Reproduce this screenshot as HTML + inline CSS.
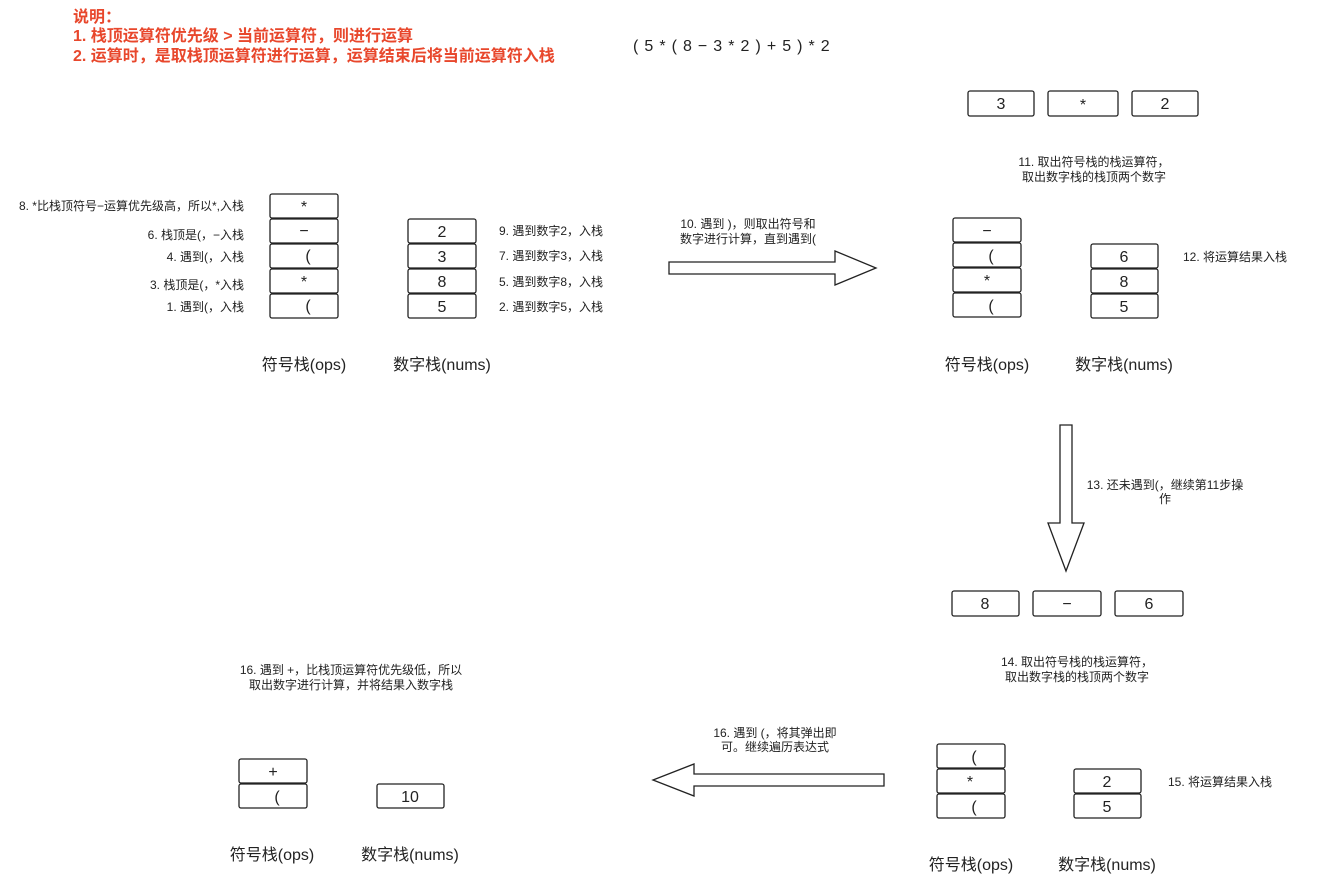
<!DOCTYPE html>
<html><head><meta charset="utf-8"><style>
body{margin:0;background:#fff}
svg text{font-family:"Liberation Sans","Noto Sans CJK SC",sans-serif;fill:#222}
</style></head><body>
<svg width="1333" height="884" viewBox="0 0 1333 884" xmlns="http://www.w3.org/2000/svg">
<g font-size="16" font-weight="bold">
<text x="73" y="22" style="fill:#e8472c">说明：</text>
<text x="73" y="41" style="fill:#e8472c">1. 栈顶运算符优先级 &gt; 当前运算符，则进行运算</text>
<text x="73" y="61" style="fill:#e8472c">2. 运算时，是取栈顶运算符进行运算，运算结束后将当前运算符入栈</text>
</g>
<text x="633" y="51" font-size="16" letter-spacing="0.8">( 5 * ( 8 − 3 * 2 ) + 5 ) * 2</text>
<g fill="#fff" stroke="#222" stroke-width="1.3">
<rect x="270" y="194" width="68" height="24" rx="2"/><rect x="270" y="219" width="68" height="24" rx="2"/><rect x="270" y="244" width="68" height="24" rx="2"/><rect x="270" y="269" width="68" height="24" rx="2"/><rect x="270" y="294" width="68" height="24" rx="2"/>
<rect x="408" y="219" width="68" height="24" rx="2"/><rect x="408" y="244" width="68" height="24" rx="2"/><rect x="408" y="269" width="68" height="24" rx="2"/><rect x="408" y="294" width="68" height="24" rx="2"/>
<rect x="968" y="91" width="66" height="25" rx="2"/><rect x="1048" y="91" width="70" height="25" rx="2"/><rect x="1132" y="91" width="66" height="25" rx="2"/>
<rect x="953" y="218" width="68" height="24" rx="2"/><rect x="953" y="243" width="68" height="24" rx="2"/><rect x="953" y="268" width="68" height="24" rx="2"/><rect x="953" y="293" width="68" height="24" rx="2"/>
<rect x="1091" y="244" width="67" height="24" rx="2"/><rect x="1091" y="269" width="67" height="24" rx="2"/><rect x="1091" y="294" width="67" height="24" rx="2"/>
<rect x="952" y="591" width="67" height="25" rx="2"/><rect x="1033" y="591" width="68" height="25" rx="2"/><rect x="1115" y="591" width="68" height="25" rx="2"/>
<rect x="937" y="744" width="68" height="24" rx="2"/><rect x="937" y="769" width="68" height="24" rx="2"/><rect x="937" y="794" width="68" height="24" rx="2"/>
<rect x="1074" y="769" width="67" height="24" rx="2"/><rect x="1074" y="794" width="67" height="24" rx="2"/>
<rect x="239" y="759" width="68" height="24" rx="2"/><rect x="239" y="784" width="68" height="24" rx="2"/>
<rect x="377" y="784" width="67" height="24" rx="2"/>
<path d="M669 262 H835 V251 L876 268 L835 285 V274 H669 Z"/>
<path d="M1060 425 H1072 V523 H1084 L1066 571 L1048 523 H1060 Z"/>
<path d="M884 774 H694 V764 L653 780 L694 796 V786 H884 Z"/>
</g>
<g font-size="16" text-anchor="middle">
<text x="304" y="212">*</text><text x="304" y="236">−</text><text x="308" y="261">(</text><text x="304" y="287">*</text><text x="308" y="311">(</text>
<text x="442" y="237">2</text><text x="442" y="262">3</text><text x="442" y="287">8</text><text x="442" y="312">5</text>
<text x="1001" y="109">3</text><text x="1083" y="110">*</text><text x="1165" y="109">2</text>
<text x="987" y="236">−</text><text x="991" y="261">(</text><text x="987" y="286">*</text><text x="991" y="311">(</text>
<text x="1124" y="262">6</text><text x="1124" y="287">8</text><text x="1124" y="312">5</text>
<text x="985" y="609">8</text><text x="1067" y="609">−</text><text x="1149" y="609">6</text>
<text x="974" y="762">(</text><text x="970" y="787">*</text><text x="974" y="812">(</text>
<text x="1107" y="787">2</text><text x="1107" y="812">5</text>
<text x="273" y="777">+</text><text x="277" y="802">(</text>
<text x="410" y="802">10</text>
</g>
<g font-size="16" text-anchor="middle">
<text x="304" y="370">符号栈(ops)</text><text x="442" y="370">数字栈(nums)</text>
<text x="987" y="370">符号栈(ops)</text><text x="1124" y="370">数字栈(nums)</text>
<text x="272" y="860">符号栈(ops)</text><text x="410" y="860">数字栈(nums)</text>
<text x="971" y="870">符号栈(ops)</text><text x="1107" y="870">数字栈(nums)</text>
</g>
<g font-size="12" text-anchor="end">
<text x="244" y="210">8. *比栈顶符号−运算优先级高，所以*,入栈</text>
<text x="244" y="239">6. 栈顶是(，−入栈</text>
<text x="244" y="261">4. 遇到(，入栈</text>
<text x="244" y="289">3. 栈顶是(，*入栈</text>
<text x="244" y="311">1. 遇到(，入栈</text>
</g>
<g font-size="12">
<text x="499" y="235">9. 遇到数字2，入栈</text>
<text x="499" y="260">7. 遇到数字3，入栈</text>
<text x="499" y="286">5. 遇到数字8，入栈</text>
<text x="499" y="311">2. 遇到数字5，入栈</text>
<text x="1183" y="261">12. 将运算结果入栈</text>
<text x="1168" y="786">15. 将运算结果入栈</text>
</g>
<g font-size="12" text-anchor="middle">
<text x="748" y="228">10. 遇到 )，则取出符号和</text><text x="748" y="243">数字进行计算，直到遇到(</text>
<text x="1094" y="166">11. 取出符号栈的栈运算符，</text><text x="1094" y="181">取出数字栈的栈顶两个数字</text>
<text x="1165" y="489">13. 还未遇到(，继续第11步操</text><text x="1165" y="503">作</text>
<text x="1077" y="666">14. 取出符号栈的栈运算符，</text><text x="1077" y="681">取出数字栈的栈顶两个数字</text>
<text x="775" y="737">16. 遇到 (，将其弹出即</text><text x="775" y="751">可。继续遍历表达式</text>
<text x="351" y="674">16. 遇到 +，比栈顶运算符优先级低，所以</text><text x="351" y="689">取出数字进行计算，并将结果入数字栈</text>
</g>
</svg>
</body></html>
